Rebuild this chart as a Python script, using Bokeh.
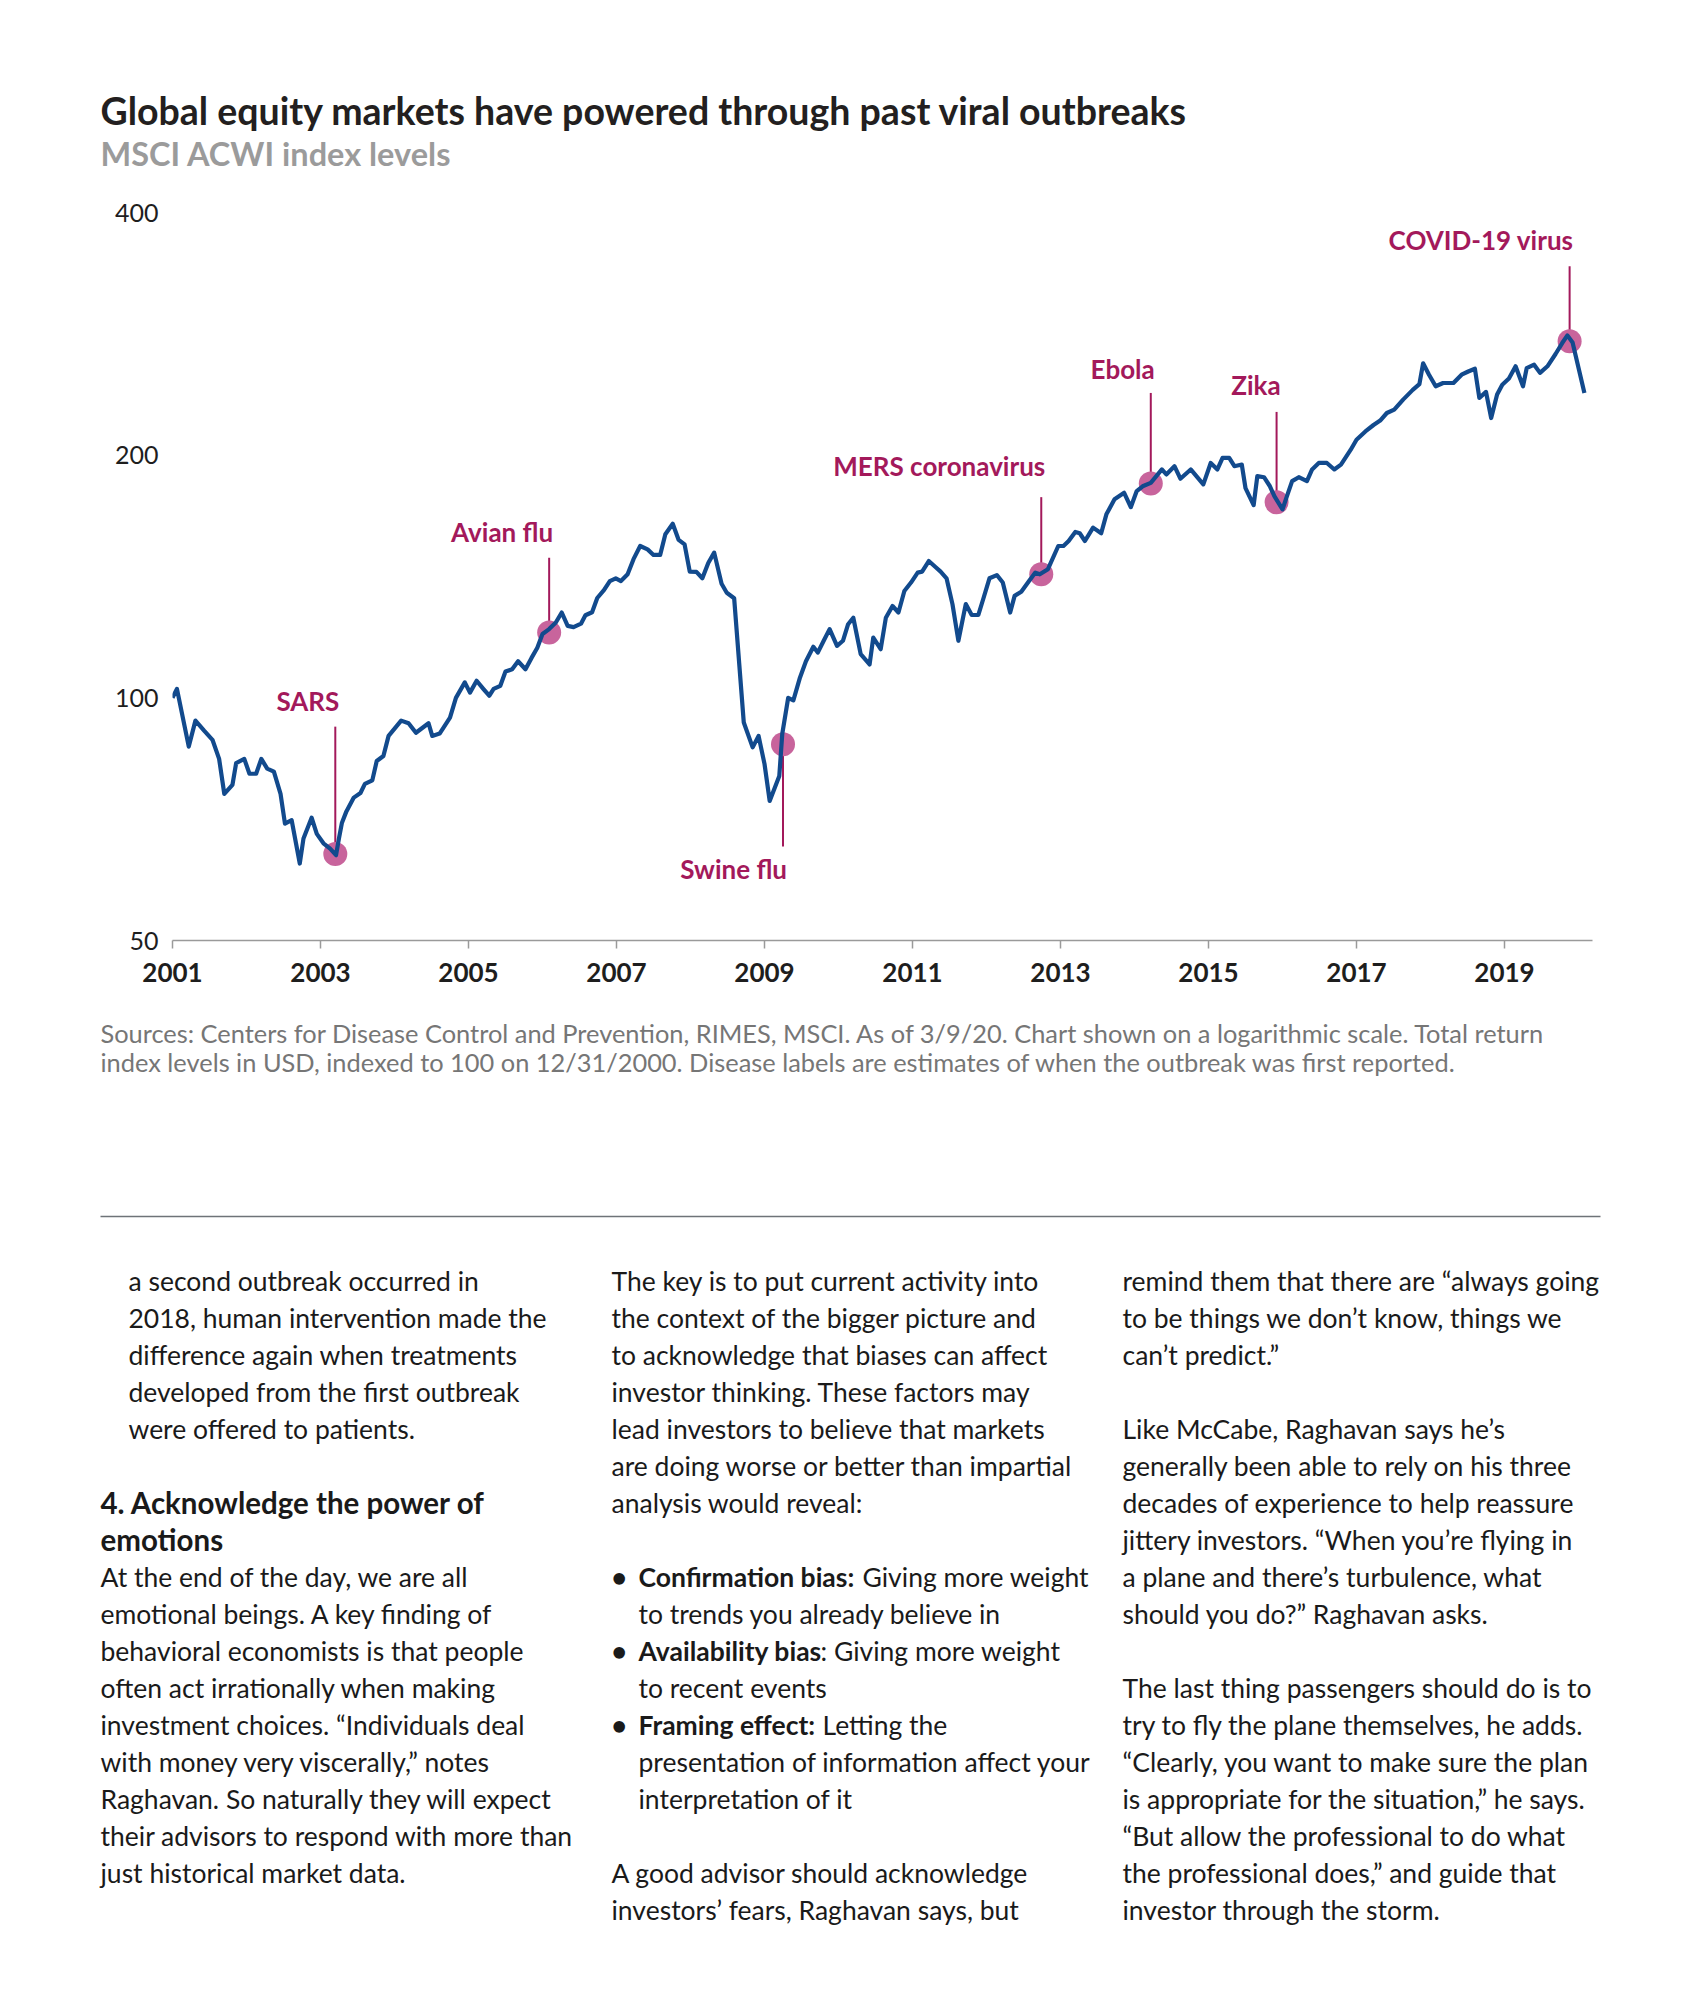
from bokeh.plotting import figure
from bokeh.models import ColumnDataSource, FixedTicker, PrintfTickFormatter, Range1d
from bokeh.layouts import column
from bokeh.embed import file_html
from bokeh.resources import INLINE
from bokeh.core.properties import value

# ---------------- data ----------------
dates = [
    2001.00, 2001.06, 2001.22, 2001.31, 2001.43, 2001.54, 2001.63, 2001.70, 2001.81, 2001.86, 2001.97,
    2002.04, 2002.13, 2002.20, 2002.28, 2002.37, 2002.46, 2002.52, 2002.61, 2002.72, 2002.77, 2002.88, 2002.95,
    2003.04, 2003.13, 2003.21, 2003.25, 2003.29, 2003.35, 2003.45, 2003.54, 2003.60, 2003.70, 2003.76, 2003.85, 2003.92,
    2004.09, 2004.19, 2004.29, 2004.46, 2004.51, 2004.61, 2004.75, 2004.83, 2004.95,
    2005.02, 2005.11, 2005.20, 2005.28, 2005.34, 2005.43, 2005.50, 2005.59, 2005.67, 2005.77, 2005.85, 2005.93,
    2006.00, 2006.09, 2006.18, 2006.26, 2006.34, 2006.42, 2006.52, 2006.58, 2006.67, 2006.74, 2006.83, 2006.91, 2006.99,
    2007.06, 2007.15, 2007.23, 2007.32, 2007.42, 2007.50, 2007.59, 2007.66, 2007.76, 2007.84, 2007.92, 2007.99,
    2008.08, 2008.16, 2008.24, 2008.32, 2008.42, 2008.49, 2008.59, 2008.72, 2008.84, 2008.92, 2009.00, 2009.07,
    2009.20, 2009.24, 2009.32, 2009.39, 2009.48, 2009.56, 2009.66, 2009.72, 2009.80, 2009.88, 2009.98,
    2010.06, 2010.13, 2010.20, 2010.30, 2010.42, 2010.47, 2010.57, 2010.64, 2010.73, 2010.81, 2010.89, 2010.98,
    2011.07, 2011.13, 2011.22, 2011.31, 2011.38, 2011.46, 2011.54, 2011.62, 2011.72, 2011.80, 2011.89, 2011.96,
    2012.04, 2012.14, 2012.22, 2012.32, 2012.38, 2012.47, 2012.57, 2012.66, 2012.72, 2012.83, 2012.97,
    2013.04, 2013.11, 2013.20, 2013.26, 2013.33, 2013.44, 2013.55, 2013.62, 2013.73, 2013.86, 2013.95,
    2014.03, 2014.11, 2014.22, 2014.37, 2014.43, 2014.54, 2014.62, 2014.76, 2014.93,
    2015.03, 2015.12, 2015.19, 2015.28, 2015.35, 2015.45, 2015.50, 2015.61, 2015.66, 2015.75, 2015.83, 2015.89,
    2016.00, 2016.06, 2016.13, 2016.22, 2016.33, 2016.40, 2016.49, 2016.60, 2016.70, 2016.79, 2016.92,
    2017.00, 2017.12, 2017.23, 2017.32, 2017.41, 2017.51, 2017.63, 2017.76, 2017.85, 2017.90, 2017.98,
    2018.07, 2018.17, 2018.31, 2018.42, 2018.51, 2018.60, 2018.66, 2018.75, 2018.82, 2018.90, 2018.97,
    2019.06, 2019.15, 2019.25, 2019.30, 2019.40, 2019.48, 2019.58, 2019.69, 2019.78, 2019.85, 2019.92, 2020.08,
]
index_level = [
    100, 102.6, 87, 93.7, 91, 88.7, 84, 76, 78, 83, 84,
    80.5, 80.5, 84, 81.7, 81, 76, 69.8, 70.5, 62.3, 66.9, 71, 67.8,
    66, 65, 63.8, 67, 70, 72.3, 75.2, 76.2, 78.2, 79, 83.5, 84.7, 89.7,
    93.7, 93, 90.5, 93, 89.7, 90.3, 94.5, 100, 104.5,
    101.5, 105, 102.6, 100.6, 102.6, 103.5, 107.8, 108.5, 111, 108.5, 112, 115.4,
    120, 121.7, 124, 127.6, 122.8, 122.4, 123.6, 126.6, 127.7, 133, 136, 139.6, 140.7,
    139.6, 142.3, 148.6, 154.3, 152.8, 150.4, 150.4, 159.6, 164.4, 157, 155, 143.4,
    143.3, 140.7, 147, 151.4, 138.5, 135, 132.9, 93.2, 86.8, 89.7, 82.8, 74.5,
    80, 90.2, 100, 99.3, 106, 111, 115.7, 113.8, 117.7, 121.7, 116,
    117.7, 123.4, 125.7, 113.3, 110, 118.8, 114.9, 125.7, 130, 127.6, 135.7, 139,
    143, 143.4, 147.8, 145.3, 143.4, 140.7, 130.7, 117.7, 130.7, 126.7, 126.7, 133,
    140.7, 142, 139, 127.6, 133.8, 135.4, 139.4, 143, 142.3, 144.4, 154.3,
    154.3, 156.5, 160.6, 160, 156.5, 162.6, 160, 168.9, 176.3, 179.6, 172.4,
    180.5, 183, 184.8, 192, 189.3, 193.8, 187, 192, 184,
    195.6, 192, 198.5, 198.5, 193.8, 194.7, 182, 173.4, 188.4, 187.8, 183, 177.9,
    171.3, 177.9, 185.7, 187.8, 185.7, 192, 195.6, 195.6, 192, 194.7, 203,
    209, 214, 218, 220.8, 225.6, 227.8, 234.4, 241, 245, 260, 251.7,
    243.5, 245.8, 245.8, 251.7, 254, 256, 235.5, 239.6, 222.4, 237.8, 244.6,
    249, 257.8, 243.5, 256.5, 259, 253, 257.8, 267, 275.5, 281.6, 276, 238.9,
]
assert len(dates) == len(index_level)

event_names = ["SARS", "Avian flu", "Swine flu", "MERS coronavirus", "Ebola", "Zika", "COVID-19 virus"]
event_dates = [2003.20, 2006.09, 2009.25, 2012.74, 2014.22, 2015.92, 2019.88]
event_levels = [64, 120.5, 87.6, 142.3, 184.5, 174.8, 277]
stem_end_levels = [92.1, 149.2, 65.4, 177.4, 238.9, 226.3, 343]
label_levels = [99.2, 160.7, 61.4, 194, 255.9, 244.2, 370.3]

x_ticks = [2001, 2003, 2005, 2007, 2009, 2011, 2013, 2015, 2017, 2019]
y_ticks = [50, 100, 200, 400]

title_text = "Global equity markets have powered through past viral outbreaks"
subtitle_text = "MSCI ACWI index levels"
source_lines = [
    "Sources: Centers for Disease Control and Prevention, RIMES, MSCI. As of 3/9/20. Chart shown on a logarithmic scale. Total return",
    "index levels in USD, indexed to 100 on 12/31/2000. Disease labels are estimates of when the outbreak was first reported.",
]

col1_para1 = ["a second outbreak occurred in",
              "2018, human intervention made the",
              "difference again when treatments",
              "developed from the first outbreak",
              "were offered to patients."]
col1_heading = ["4. Acknowledge the power of", "emotions"]
col1_para2 = ["At the end of the day, we are all",
              "emotional beings. A key finding of",
              "behavioral economists is that people",
              "often act irrationally when making",
              "investment choices. \u201cIndividuals deal",
              "with money very viscerally,\u201d notes",
              "Raghavan. So naturally they will expect",
              "their advisors to respond with more than",
              "just historical market data."]
col2_para1 = ["The key is to put current activity into",
              "the context of the bigger picture and",
              "to acknowledge that biases can affect",
              "investor thinking. These factors may",
              "lead investors to believe that markets",
              "are doing worse or better than impartial",
              "analysis would reveal:"]
bullet_bold = ["Confirmation bias:", "Availability bias", "Framing effect:"]
bullet_rest = ["Giving more weight", ": Giving more weight", "Letting the"]
bullet_more = [["to trends you already believe in"],
               ["to recent events"],
               ["presentation of information affect your", "interpretation of it"]]
col2_para2 = ["A good advisor should acknowledge",
              "investors\u2019 fears, Raghavan says, but"]
col3_para1 = ["remind them that there are \u201calways going",
              "to be things we don\u2019t know, things we",
              "can\u2019t predict.\u201d"]
col3_para2 = ["Like McCabe, Raghavan says he\u2019s",
              "generally been able to rely on his three",
              "decades of experience to help reassure",
              "jittery investors. \u201cWhen you\u2019re flying in",
              "a plane and there\u2019s turbulence, what",
              "should you do?\u201d Raghavan asks."]
col3_para3 = ["The last thing passengers should do is to",
              "try to fly the plane themselves, he adds.",
              "\u201cClearly, you want to make sure the plan",
              "is appropriate for the situation,\u201d he says.",
              "\u201cBut allow the professional to do what",
              "the professional does,\u201d and guide that",
              "investor through the storm."]

# ---------------- styling ----------------
FONT = "Lato"
BLUE = "#124A8D"
MAGENTA = "#A3195B"
PINK = "#C8649C"
DARK = "#1E1E1E"
TEXT = "#1A1A1A"
W = 1684
HEAD_H, CHART_H, FOOT_H = 190, 810, 979


def blank(height, top):
    f = figure(width=W, height=height, output_backend="svg", toolbar_location=None,
               x_range=Range1d(0, W), y_range=Range1d(top + height, top),
               x_axis_location=None, y_axis_location=None,
               min_border=0, min_border_left=0, min_border_right=0,
               min_border_top=0, min_border_bottom=0, frame_align=False)
    f.outline_line_color = None
    f.grid.visible = False
    return f


def put(f, xs, ys, texts, size, color, bold=False):
    f.text(x=xs, y=ys, text=texts, text_font=value(FONT), text_font_size=size,
           text_color=color, text_font_style="bold" if bold else "normal",
           text_align="left", text_baseline="alphabetic")


# ---- header ----
head = blank(HEAD_H, 0)
put(head, [100], [110], [title_text], "37.5px", "#231F20", bold=True)
put(head, [100], [153], [subtitle_text], "32.5px", "#9B9B9B", bold=True)

# ---- chart ----
FL, FRAME_R, FT, FB = 172, 1592, 212 - HEAD_H, HEAD_H + CHART_H - 940
p = figure(width=W, height=CHART_H, output_backend="svg", toolbar_location=None,
           x_range=Range1d(2001.0, 2001.0 + (FRAME_R - FL) / 74.0),
           y_range=Range1d(50, 400), y_axis_type="log",
           min_border_left=FL, min_border_right=W - FRAME_R,
           min_border_top=FT, min_border_bottom=FB, frame_align=False)
p.outline_line_color = None
p.grid.grid_line_color = None

xa = p.xaxis[0]
xa.ticker = FixedTicker(ticks=x_ticks)
xa.formatter = PrintfTickFormatter(format="%d")
xa.axis_line_color = "#9A9A9A"
xa.axis_line_width = 1.5
xa.major_tick_line_color = "#9A9A9A"
xa.major_tick_line_width = 1.5
xa.major_tick_out = 8
xa.major_tick_in = 0
xa.minor_tick_line_color = None
xa.major_label_text_font = FONT
xa.major_label_text_font_style = "bold"
xa.major_label_text_font_size = "26px"
xa.major_label_text_color = DARK
xa.major_label_standoff = 14

ya = p.yaxis[0]
ya.ticker = FixedTicker(ticks=y_ticks, minor_ticks=[])
ya.formatter = PrintfTickFormatter(format="%d")
ya.axis_line_color = None
ya.major_tick_line_color = None
ya.minor_tick_line_color = None
ya.major_tick_out = 0
ya.major_tick_in = 0
ya.major_label_text_font = FONT
ya.major_label_text_font_size = "25px"
ya.major_label_text_color = DARK
ya.major_label_standoff = 14

ev = ColumnDataSource(dict(x=event_dates, y=event_levels, y1=stem_end_levels,
                           ly=label_levels, name=event_names))
p.segment(x0="x", y0="y", x1="x", y1="y1", source=ev, line_color=MAGENTA, line_width=2)
p.scatter(x="x", y="y", source=ev, size=24, fill_color=PINK, line_color=None)

src = ColumnDataSource(dict(x=dates, y=index_level))
p.line(x="x", y="y", source=src, line_color=BLUE, line_width=4.2, line_join="round")

p.text(x="x", y="ly", text="name", source=ev, text_font=value(FONT), text_font_style="bold",
       text_font_size="26px", text_color=MAGENTA, text_align="right",
       text_baseline="alphabetic", x_offset=4)

# ---- footer (sources, rule, article text) ----
TOP = HEAD_H + CHART_H
foot = blank(FOOT_H, TOP)
put(foot, [100, 100], [1032, 1061.5], source_lines, "25.4px", "#767676")
foot.segment(x0=[100], y0=[1216], x1=[1600], y1=[1216], line_color="#6E7378", line_width=1.5)

BASE, STEP = 1280, 37.0
BODY = "26.5px"
C1, C1I, C2, C2B, C3 = 100, 128, 611, 638, 1122


def para(lines, x, slot0, bold=False, size=BODY):
    put(foot, [x] * len(lines), [BASE + (slot0 + i) * STEP for i in range(len(lines))],
        lines, size, TEXT, bold=bold)


para(col1_para1, C1I, 0)
para(col1_heading, C1, 6, bold=True, size="29.5px")
para(col1_para2, C1, 8)
para(col2_para1, C2, 0)
rest_x = [862, 820, 822]
slot = 8
for b, r, more, rx in zip(bullet_bold, bullet_rest, bullet_more, rest_x):
    para(["\u2022"], C2, slot, bold=True)
    para([b], C2B, slot, bold=True)
    para([r], rx, slot)
    para(more, C2B, slot + 1)
    slot += 1 + len(more)
para(col2_para2, C2, 16)
para(col3_para1, C3, 0)
para(col3_para2, C3, 4)
para(col3_para3, C3, 11)

layout = column(head, p, foot, spacing=0)
open("out.html", "w").write(file_html(layout, INLINE))
